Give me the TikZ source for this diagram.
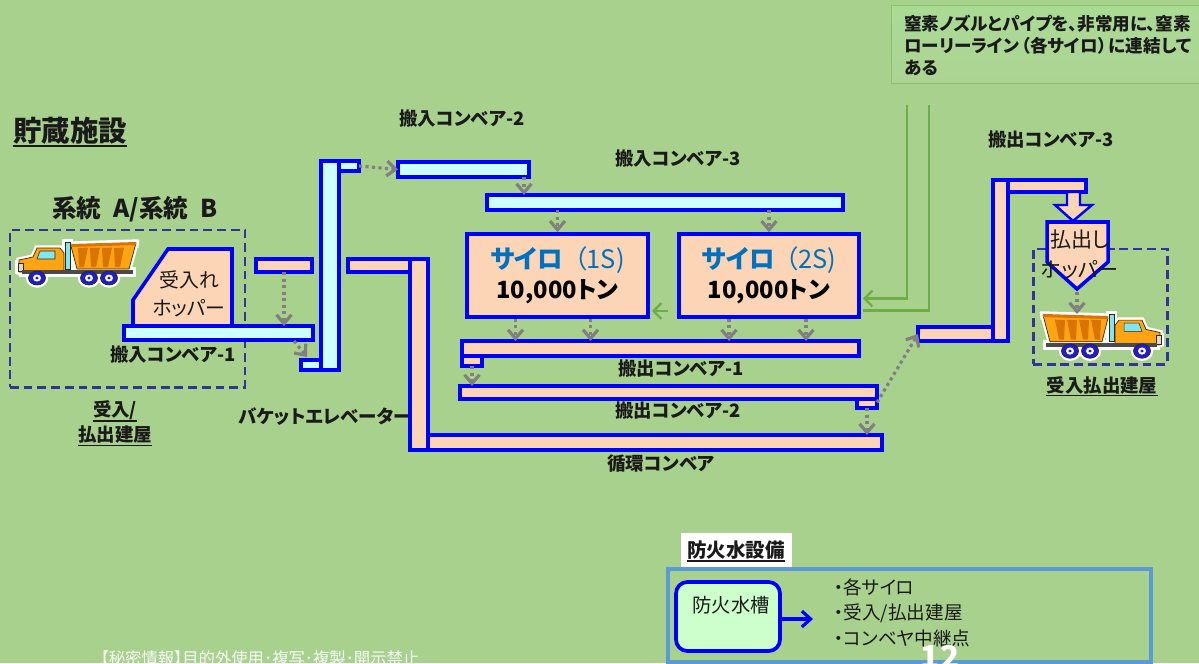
\documentclass[tikz,border=0pt]{standalone}
\usepackage{fontspec}
\setmainfont{Noto Sans CJK JP}[RawFeature=+palt]
\usetikzlibrary{arrows.meta,calc}

\definecolor{bg}{HTML}{A9D18E}
\definecolor{peach}{HTML}{FBD5B5}
\definecolor{aqua}{HTML}{CCFFFF}
\definecolor{edge}{HTML}{0000FF}
\definecolor{flowgray}{HTML}{808080}
\definecolor{pipegreen}{HTML}{70AD47}
\definecolor{navy}{HTML}{333399}
\definecolor{siloblue}{HTML}{0070C0}
\definecolor{framebl}{HTML}{5B9BD5}
\definecolor{tankfill}{HTML}{CCFFCC}
\definecolor{notegreen}{HTML}{8CC168}
\definecolor{inkdark}{HTML}{1A1A1A}
\definecolor{truckbody}{HTML}{FFA412}
\definecolor{truckshade}{HTML}{D97400}
\definecolor{truckline}{HTML}{3A2600}
\definecolor{truckglass}{HTML}{7FE6F5}
\definecolor{truckgrey}{HTML}{D8D8D8}
\definecolor{truckframe}{HTML}{4A4A4A}
\definecolor{truckwheel}{HTML}{1E1ED0}

% one pixel of the drawing grid
\newdimen\pxu \pxu=0.02cm

% rectangular node given by its corners in grid units
\newcommand\conveyor[6]{%
  \node[#2, minimum width={(#5-#3)*\pxu}, minimum height={(#6-#4)*\pxu}]
    (#1) at ({(#3+#5)/2},{(#4+#6)/2}) {};}

% underline below a text node
\newcommand\uline[2][0.8pt]{%
  \draw[line width=#1, inkdark] ([yshift=-0.6pt]#2.south west) -- ([yshift=-0.6pt]#2.south east);}

% clip-art dump truck, cab on the left; #1 is an extra style for every part
\newcommand\dumptruck[1]{%
  \path[fill=truckbody, draw=truckline, line width=0.4pt, #1]
    (53,2) -- (118,-1) -- (111,25) -- (59,25) -- cycle;
  \path[fill=truckshade, #1] (53,0) -- (118,-2) -- (118,1) -- (53,3) -- cycle;
  \foreach \i in {0,1,2,3}
    \path[fill=truckshade, #1] ({60+12*\i},4) -- ({70+12*\i},3.6) -- ({66+12*\i},23) -- ({61+12*\i},23) -- cycle;
  \path[fill=truckglass, draw=truckline, line width=0.4pt, #1] (47,-2) rectangle (52,25);
  \path[fill=truckbody, draw=truckline, line width=0.4pt, #1]
    (1,16) -- (15,13) -- (19,4) -- (42,4) -- (46,9) -- (46,28) -- (1,28) -- cycle;
  \path[fill=truckglass, draw=truckline, line width=0.3pt, #1]
    (22,7) -- (37,7) -- (37,15) -- (19,15) -- cycle;
  \path[fill=truckgrey, draw=truckline, line width=0.3pt, #1] (0,19) rectangle (5,27);
  \path[fill=truckframe, #1] (4,26) rectangle (115,30);
  \foreach \wx in {19,71,91} {
    \path[fill=truckwheel, draw=truckline, line width=0.4pt, #1] (\wx,34) ellipse [x radius=8.5, y radius=7];
    \path[fill=white, #1] (\wx,34) ellipse [x radius=4, y radius=3.5];
    \path[fill=truckwheel, #1] (\wx,34) ellipse [x radius=1.8, y radius=1.5];
  }
}

\tikzset{
  belt/.style={draw=edge, line width=2pt, inner sep=0pt, outer sep=0pt},
  aquabelt/.style={belt, fill=aqua},
  peachbelt/.style={belt, fill=peach},
  bldg/.style={draw=navy, line width=1.7pt, dash pattern=on 5pt off 2.8pt, inner sep=0pt},
  flow/.style={draw=flowgray, line width=1.8pt, dash pattern=on 1.8pt off 1.9pt,
    -{Straight Barb[length=5pt, width=8.5pt, line width=1.8pt]}},
  pipe/.style={draw=pipegreen, line width=1.4pt},
  pipetip/.style={pipe, -{Straight Barb[length=4.5pt, width=9pt, line width=1.4pt]}},
  lbl/.style={font=\bfseries\fontsize{10.5}{12}\selectfont, text=inkdark, inner sep=0pt},
  hoptext/.style={font=\fontsize{11.3}{16}\selectfont, text=inkdark, align=center, inner sep=0pt},
  silo/.style={draw=edge, fill=peach, line width=2pt, inner sep=0pt, align=center,
    font=\fontsize{13.5}{17}\selectfont},
  truckhalo/.style={draw=white, fill=white, line width=3pt},
  bodytext/.style={font=\fontsize{10.6}{12}\selectfont, text=inkdark, inner sep=0pt},
}

\begin{document}
\begin{tikzpicture}[x=0.02cm, y=-0.02cm]
\useasboundingbox (0,0) rectangle (1199,663);
\fill[bg] (0,0) rectangle (1199,663);
\clip (0,0) rectangle (1199,663);

% ---- headings ----
\node[font=\bfseries\fontsize{16.2}{18}\selectfont, text=inkdark, inner sep=0pt] (title) at (70,131) {貯蔵施設};
\uline[1.2pt]{title}
\node[font=\bfseries\fontsize{14}{15}\selectfont, text=inkdark, inner sep=0pt] (system) at (135,209) {系統\enspace A/系統\enspace B};

% ---- nitrogen note ----
\node[draw=notegreen, line width=0.6pt, top color=green!8!bg!85!white, bottom color=bg!96!white,
      anchor=north west, minimum width={320*\pxu}, minimum height={78*\pxu}, inner sep=0pt] (notebox) at (891,5) {};
\node[font=\bfseries\fontsize{10}{12.5}\selectfont, text=inkdark, align=left, inner sep=0pt, anchor=north west]
  (notetxt) at (904,15) {窒素ノズルとパイプを、非常用に、窒素\\ローリーライン\hspace{0.12em}（各サイロ）\hspace{0.12em}に連結して\\ある};

% ---- receiving building ----
\conveyor{bldgA}{bldg}{10}{230}{245}{387}
\begin{scope}[shift={(18,244)}]
  \dumptruck{truckhalo}\dumptruck{}
\end{scope}
\path[draw=edge, fill=peach, line width=2pt] (168,249) -- (232,249) -- (232,326) -- (133,326) -- (133,300) -- cycle;
\node[hoptext] (hop1) at (189,294) {受入れ\\ホッパー};
\conveyor{conv1}{aquabelt}{124}{326}{313}{340}
\node[lbl] (conv1lbl) at (173,355) {搬入コンベア-1};
\node[lbl] (bldgAl1) at (115,410) {受入/};
\uline{bldgAl1}
\node[lbl] (bldgAl2) at (115,435) {払出建屋};
\uline{bldgAl2}

% ---- bucket elevator ----
\conveyor{feed}{peachbelt}{256}{259}{312}{272}
\conveyor{elevtop}{aquabelt}{339}{161}{359}{171}
\conveyor{elevbot}{aquabelt}{301}{360}{321}{370}
\conveyor{elev}{aquabelt}{321}{161}{339}{370}
\node[lbl] (elevlbl) at (325,417) {バケットエレベーター};

% ---- infeed conveyors ----
\conveyor{conv2}{aquabelt}{398}{162}{529}{177}
\node[lbl] (conv2lbl) at (462,119) {搬入コンベア-2};
\conveyor{conv3}{aquabelt}{487}{195}{843}{210}
\node[lbl] (conv3lbl) at (678,159) {搬入コンベア-3};

% ---- silos ----
\node[silo, minimum width={181*\pxu}, minimum height={83*\pxu}] (silo1) at (557.5,275.5)
  {{\fontsize{14.5}{17}\selectfont\color{siloblue}\bfseries サイロ}\hspace{0.45em}{\fontsize{14.5}{17}\selectfont\color{siloblue}（1S)}\\\bfseries 10,000トン};
\node[silo, minimum width={180*\pxu}, minimum height={83*\pxu}] (silo2) at (769,275.5)
  {{\fontsize{14.5}{17}\selectfont\color{siloblue}\bfseries サイロ}\hspace{0.45em}{\fontsize{14.5}{17}\selectfont\color{siloblue}（2S)}\\\bfseries 10,000トン};

% ---- recirculation conveyor ----
\conveyor{recirctop}{peachbelt}{348}{259}{428}{272}
\conveyor{recirc}{peachbelt}{410}{435}{882}{450}
\conveyor{recircup}{peachbelt}{410}{259}{428}{450}
\node[lbl] (recirclbl) at (661,463) {循環コンベア};

% ---- outfeed conveyors ----
\conveyor{out1tab}{peachbelt}{462}{354}{482}{366}
\conveyor{out1}{peachbelt}{462}{341}{859}{356}
\node[lbl] (out1lbl) at (681,369) {搬出コンベア-1};
\conveyor{out2tab}{peachbelt}{857}{397}{877}{408}
\conveyor{out2}{peachbelt}{460}{386}{877}{399}
\node[lbl] (out2lbl) at (678,411) {搬出コンベア-2};
\conveyor{out3low}{peachbelt}{918}{327}{993}{341}
\conveyor{out3top}{peachbelt}{1008}{180}{1086}{192}
\conveyor{out3up}{peachbelt}{993}{180}{1008}{341}
\node[lbl] (out3lbl) at (1051,140) {搬出コンベア-3};

% ---- shipping building ----
\conveyor{bldgB}{bldg}{1033}{249}{1167}{364}
\path[draw=edge, fill=peach, line width=1.4pt]
  (1067,192) -- (1080,192) -- (1080,205) -- (1092,205) -- (1073,221) -- (1055,205) -- (1067,205) -- cycle;
\path[draw=edge, fill=peach, line width=2pt] (1047,222) -- (1108,222) -- (1108,262) -- (1077,289) -- (1047,262) -- cycle;
\node[hoptext, font=\fontsize{12}{17}\selectfont] (hop2) at (1080,254) {払出し\\ホッパー};
\begin{scope}[shift={(1161,316)}, xscale=-1, yscale=1.03]
  \dumptruck{truckhalo}\dumptruck{}
\end{scope}
\node[lbl] (bldgBl) at (1102,385) {受入払出建屋};
\uline{bldgBl}

% ---- material flow ----
\draw[flow] (feed.south) -- (feed.south |- conv1.north);
\coordinate (c1end) at ($(conv1.south east)+(-19,1)$);
\coordinate (ebin) at ($(elevbot.north west)+(6,-3)$);
\draw[flow] (c1end) -- (ebin);
\draw[flow] (elevtop.east) -- (conv2.west);
\coordinate (c2drop) at ($(conv2.south east)+(-5,0)$);
\draw[flow] (c2drop) -- (c2drop |- conv3.north);
\draw[flow] (silo1.north |- conv3.south) -- (silo1.north);
\draw[flow] (silo2.north |- conv3.south) -- (silo2.north);
\foreach \s/\dx [count=\k] in {silo1/-42, silo1/33, silo2/-40, silo2/37} {
  \coordinate (sd\k) at ($(\s.south)+(\dx,0)$);
  \draw[flow] (sd\k) -- (sd\k |- out1.north);
}
\draw[flow] (out1tab.south) -- (out1tab.south |- out2.north);
\draw[flow] (out2tab.south) -- (out2tab.south |- recirc.north);
\draw[flow] (out2tab.east) -- (out3low.west);
\coordinate (hop2tip) at (1077,292);
\coordinate (truck2top) at (1077,314);
\draw[flow] (hop2tip) -- (truck2top);

% ---- nitrogen lines ----
\coordinate (n2a) at (907,105);
\coordinate (n2b) at (929,105);
\draw[pipetip] (n2a) |- ($(silo2.east)+(2,23)$);
\draw[pipe] (n2b) |- ($(silo2.east)+(2,35)$);
\draw[pipetip] ($(silo2.west)+(-9,35.5)$) -- ($(silo1.east)+(2,35.5)$);

% ---- fire water equipment ----
\node[fill=white, minimum width={111*\pxu}, minimum height={35*\pxu}, inner sep=0pt] (fwbg) at (736.5,550.5) {};
\node[font=\bfseries\fontsize{11.1}{12}\selectfont, text=inkdark, inner sep=0pt] (fwtitle) at (736,550) {防火水設備};
\uline[0.9pt]{fwtitle}
\conveyor{fwframe}{draw=framebl, line width=1.8pt, inner sep=0pt}{668}{569}{1151}{662}
\node[draw=edge, fill=tankfill, line width=2.1pt, rounded corners=6.5pt, inner sep=0pt,
      minimum width={104*\pxu}, minimum height={69*\pxu}] (tank) at (728,616.5) {};
\node[bodytext, font=\fontsize{11}{12}\selectfont] (tanklbl) at (731,605) {防火水槽};
\coordinate (tankto) at (813,619);
\draw[draw=edge, line width=1.8pt, -{Straight Barb[length=5pt, width=9pt]}] (tank.east |- tankto) -- (tankto);
\node[bodytext, anchor=west] (fw1) at (834,587) {・各サイロ};
\node[bodytext, anchor=west] (fw2) at (834,613) {・受入/払出建屋};
\node[bodytext, anchor=west] (fw3) at (834,638) {・コンベヤ中継点};

% ---- footer ----
\node[font=\bfseries\fontsize{18}{18}\selectfont, text=white, anchor=north, inner sep=0pt] (pageno) at (940,645) {12};
\node[font=\fontsize{9.3}{10}\selectfont, text=white!90!bg, inner sep=0pt] (footer) at (260,658)
  {【秘密情報】目的外使用･複写･複製･開示禁止};
\end{tikzpicture}
\end{document}
